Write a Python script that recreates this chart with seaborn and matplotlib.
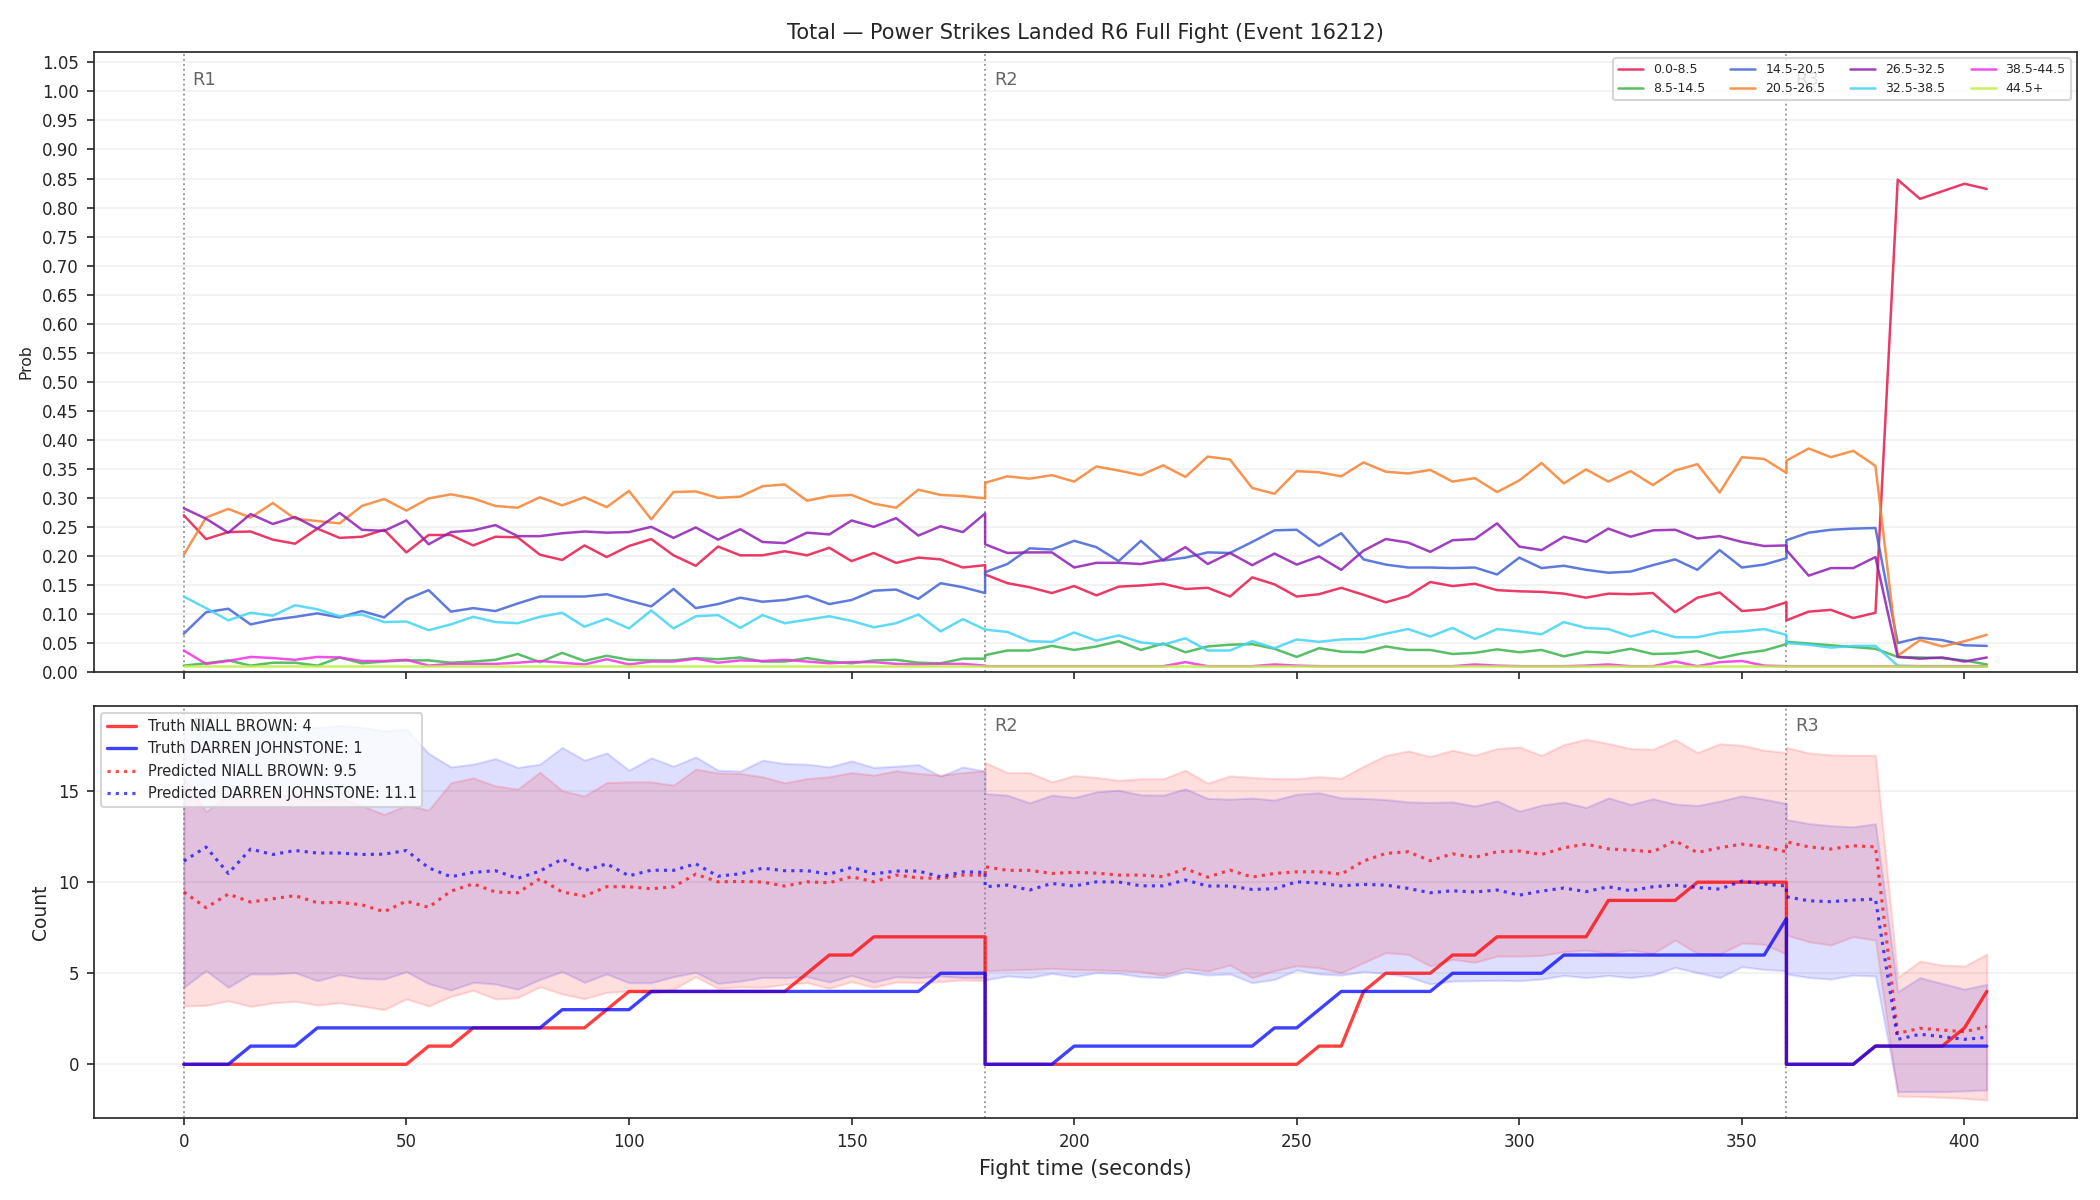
import matplotlib
matplotlib.use("Agg")
import matplotlib.pyplot as plt
import seaborn as sns
import pandas as pd

# ---------------- time axis (5 s sampling, round boundaries repeated) ----------------
R1_T = list(range(0, 181, 5))
R2_T = list(range(180, 361, 5))
R3_T = list(range(360, 406, 5))
time_s = R1_T + R2_T + R3_T
round_starts = [0, 180, 360]
round_names = ["R1", "R2", "R3"]

# ---------------- top panel: bin probabilities ----------------
bin_labels = ["0.0-8.5", "8.5-14.5", "14.5-20.5", "20.5-26.5",
              "26.5-32.5", "32.5-38.5", "38.5-44.5", "44.5+"]
bin_colors = ["#e6194b", "#3cb44b", "#4363d8", "#f58231",
              "#911eb4", "#42d4f4", "#f032e6", "#bfef45"]

p_0_8 = [0.270, 0.229, 0.241, 0.242, 0.228, 0.221, 0.247, 0.231, 0.233, 0.245,
         0.206, 0.236, 0.236, 0.218, 0.233, 0.232, 0.202, 0.193, 0.218, 0.198,
         0.217, 0.229, 0.201, 0.183, 0.216, 0.201, 0.201, 0.208, 0.201, 0.214,
         0.191, 0.205, 0.188, 0.197, 0.194, 0.180, 0.184,
         0.168, 0.153, 0.146, 0.136, 0.148, 0.132,
         0.147, 0.149, 0.152, 0.143, 0.145, 0.130, 0.163, 0.151, 0.130, 0.134,
         0.145, 0.133, 0.120, 0.131, 0.155, 0.148, 0.152, 0.141, 0.139, 0.138,
         0.135, 0.128, 0.135,
         0.134, 0.136, 0.103, 0.128, 0.137, 0.105, 0.108, 0.120,
         0.089, 0.104, 0.107, 0.093, 0.102, 0.848, 0.815, 0.828, 0.841, 0.832]

p_8_14 = [0.011, 0.015, 0.020, 0.011, 0.016, 0.016, 0.011, 0.025, 0.015, 0.018,
          0.020, 0.020, 0.016, 0.018, 0.021, 0.031, 0.017, 0.033, 0.019, 0.028,
          0.021, 0.020, 0.020, 0.024, 0.022, 0.025, 0.018, 0.018, 0.024, 0.018,
          0.015, 0.020, 0.021, 0.016, 0.015, 0.023, 0.023,
          0.029, 0.037, 0.037, 0.045, 0.038, 0.044,
          0.053, 0.038, 0.049, 0.034, 0.044, 0.047, 0.048, 0.040, 0.026, 0.041,
          0.035, 0.034, 0.044, 0.038, 0.038, 0.031, 0.033, 0.039, 0.034, 0.038,
          0.027, 0.035, 0.033,
          0.040, 0.031, 0.032, 0.036, 0.024, 0.032, 0.037, 0.048,
          0.052, 0.049, 0.046, 0.043, 0.040, 0.026, 0.025, 0.024, 0.020, 0.013]

p_14_20 = [0.066, 0.103, 0.109, 0.082, 0.090, 0.095, 0.101, 0.094, 0.105, 0.094,
           0.125, 0.141, 0.104, 0.110, 0.105, 0.118, 0.130, 0.130, 0.130, 0.134,
           0.123, 0.113, 0.143, 0.110, 0.117, 0.128, 0.121, 0.124, 0.131, 0.117,
           0.124, 0.140, 0.142, 0.126, 0.153, 0.146, 0.136,
           0.172, 0.186, 0.213, 0.211, 0.226, 0.215,
           0.191, 0.226, 0.192, 0.197, 0.206, 0.205, 0.224, 0.244, 0.245, 0.217,
           0.239, 0.194, 0.185, 0.180, 0.180, 0.179, 0.180, 0.168, 0.197, 0.179,
           0.183, 0.176, 0.171,
           0.173, 0.184, 0.194, 0.176, 0.210, 0.180, 0.185, 0.196,
           0.227, 0.240, 0.245, 0.247, 0.248, 0.050, 0.059, 0.055, 0.046, 0.045]

p_20_26 = [0.202, 0.266, 0.281, 0.266, 0.291, 0.264, 0.260, 0.256, 0.286, 0.298,
           0.278, 0.299, 0.306, 0.299, 0.286, 0.283, 0.301, 0.287, 0.301, 0.284,
           0.312, 0.263, 0.310, 0.311, 0.300, 0.302, 0.320, 0.323, 0.295, 0.303,
           0.305, 0.290, 0.283, 0.314, 0.305, 0.303, 0.299,
           0.326, 0.337, 0.333, 0.339, 0.328, 0.354,
           0.347, 0.339, 0.356, 0.336, 0.371, 0.366, 0.317, 0.307, 0.346, 0.344,
           0.337, 0.361, 0.345, 0.342, 0.348, 0.328, 0.334, 0.310, 0.330, 0.360,
           0.325, 0.349, 0.328,
           0.346, 0.322, 0.347, 0.358, 0.309, 0.370, 0.367, 0.343,
           0.364, 0.385, 0.370, 0.381, 0.355, 0.028, 0.055, 0.044, 0.053, 0.064]

p_26_32 = [0.282, 0.264, 0.240, 0.272, 0.255, 0.267, 0.247, 0.274, 0.245, 0.243,
           0.261, 0.220, 0.241, 0.244, 0.253, 0.234, 0.234, 0.239, 0.242, 0.240,
           0.241, 0.250, 0.231, 0.249, 0.228, 0.246, 0.224, 0.222, 0.240, 0.237,
           0.261, 0.250, 0.265, 0.235, 0.251, 0.241, 0.273,
           0.220, 0.205, 0.206, 0.206, 0.180, 0.188,
           0.188, 0.186, 0.193, 0.215, 0.186, 0.205, 0.184, 0.204, 0.185, 0.199,
           0.176, 0.209, 0.229, 0.223, 0.207, 0.227, 0.229, 0.256, 0.216, 0.210,
           0.233, 0.224, 0.247,
           0.233, 0.244, 0.245, 0.230, 0.234, 0.224, 0.217, 0.218,
           0.210, 0.166, 0.179, 0.179, 0.198, 0.026, 0.023, 0.025, 0.018, 0.025]

p_32_38 = [0.130, 0.110, 0.089, 0.102, 0.097, 0.115, 0.108, 0.096, 0.099, 0.086,
           0.087, 0.072, 0.082, 0.095, 0.086, 0.084, 0.095, 0.102, 0.078, 0.092,
           0.075, 0.106, 0.075, 0.096, 0.098, 0.076, 0.098, 0.084, 0.090, 0.096,
           0.088, 0.077, 0.084, 0.099, 0.070, 0.091, 0.073,
           0.073, 0.069, 0.053, 0.052, 0.068, 0.054,
           0.063, 0.051, 0.047, 0.058, 0.037, 0.037, 0.053, 0.041, 0.056, 0.052,
           0.056, 0.057, 0.066, 0.074, 0.061, 0.076, 0.057, 0.074, 0.070, 0.065,
           0.086, 0.076, 0.074,
           0.061, 0.071, 0.060, 0.060, 0.068, 0.070, 0.074, 0.064,
           0.050, 0.047, 0.042, 0.045, 0.045, 0.011, 0.010, 0.010, 0.010, 0.010]

p_38_44 = [0.037, 0.014, 0.019, 0.026, 0.024, 0.021, 0.026, 0.025, 0.019, 0.019,
           0.021, 0.011, 0.014, 0.014, 0.014, 0.016, 0.019, 0.016, 0.013, 0.022,
           0.013, 0.018, 0.018, 0.023, 0.016, 0.020, 0.019, 0.021, 0.018, 0.015,
           0.017, 0.017, 0.014, 0.013, 0.014, 0.014, 0.011,
           0.010, 0.010, 0.010, 0.010, 0.010, 0.010,
           0.010, 0.010, 0.010, 0.017, 0.010, 0.010, 0.010, 0.013, 0.011, 0.010,
           0.010, 0.010, 0.010, 0.010, 0.010, 0.010, 0.013, 0.011, 0.010, 0.010,
           0.010, 0.011, 0.013,
           0.010, 0.010, 0.018, 0.010, 0.017, 0.019, 0.011, 0.010,
           0.010, 0.010, 0.010, 0.010, 0.010, 0.010, 0.010, 0.010, 0.010, 0.010]

p_44_up = [0.010, 0.010, 0.010, 0.010, 0.010, 0.010, 0.010, 0.010, 0.010, 0.010,
           0.010, 0.010, 0.010, 0.010, 0.010, 0.010, 0.010, 0.010, 0.010, 0.010,
           0.010, 0.010, 0.010, 0.010, 0.010, 0.010, 0.010, 0.010, 0.010, 0.010,
           0.010, 0.010, 0.010, 0.010, 0.010, 0.010, 0.010,
           0.010, 0.010, 0.010, 0.010, 0.010, 0.010,
           0.010, 0.010, 0.010, 0.010, 0.010, 0.010, 0.010, 0.010, 0.010, 0.010,
           0.010, 0.010, 0.010, 0.010, 0.010, 0.010, 0.010, 0.010, 0.010, 0.010,
           0.010, 0.010, 0.010,
           0.010, 0.010, 0.010, 0.010, 0.010, 0.010, 0.010, 0.010,
           0.010, 0.010, 0.010, 0.010, 0.010, 0.010, 0.010, 0.010, 0.010, 0.010]

bin_series = [p_0_8, p_8_14, p_14_20, p_20_26, p_26_32, p_32_38, p_38_44, p_44_up]

# ---------------- bottom panel: counts ----------------
fighter_a = "NIALL BROWN"
fighter_b = "DARREN JOHNSTONE"

truth_a = [0, 0, 0, 0, 0, 0, 0, 0, 0, 0, 0, 1, 1, 2, 2, 2, 2, 2, 2, 3,
           4, 4, 4, 4, 4, 4, 4, 4, 5, 6, 6, 7, 7, 7, 7, 7, 7,
           0, 0, 0, 0, 0, 0, 0, 0, 0, 0, 0, 0, 0, 0, 0,
           1, 1, 4, 5, 5, 5, 6, 6, 7, 7, 7, 7, 7, 9, 9, 9, 9, 10, 10, 10, 10, 10,
           0, 0, 0, 0, 1, 1, 1, 1, 2, 4]

truth_b = [0, 0, 0, 1, 1, 1, 2, 2, 2, 2, 2, 2, 2, 2, 2, 2, 2, 3, 3, 3,
           3, 4, 4, 4, 4, 4, 4, 4, 4, 4, 4, 4, 4, 4, 5, 5, 5,
           0, 0, 0, 0, 1, 1, 1, 1, 1, 1, 1, 1, 1, 2, 2, 3, 4, 4, 4, 4, 4,
           5, 5, 5, 5, 5, 6, 6, 6, 6, 6, 6, 6, 6, 6, 6, 8,
           0, 0, 0, 0, 1, 1, 1, 1, 1, 1]

pred_a = [9.46, 8.60, 9.35, 8.91, 9.09, 9.26, 8.87, 8.89, 8.76, 8.38,
          8.96, 8.62, 9.51, 9.91, 9.46, 9.42, 10.19, 9.46, 9.24, 9.75,
          9.75, 9.64, 9.75, 10.44, 10.02, 10.04, 10.01, 9.79, 10.02, 9.97,
          10.30, 10.02, 10.39, 10.24, 10.21, 10.39, 10.39,
          10.85, 10.65, 10.65, 10.48, 10.54, 10.50,
          10.39, 10.39, 10.30, 10.74, 10.28, 10.66, 10.28, 10.48, 10.57, 10.57,
          10.44, 11.16, 11.58, 11.67, 11.18, 11.56, 11.36, 11.67, 11.71, 11.52,
          11.89, 12.09, 11.83,
          11.76, 11.67, 12.27, 11.63, 11.89, 12.09, 11.94, 11.67,
          12.22, 11.94, 11.82, 12.00, 11.94, 1.70, 1.98, 1.88, 1.79, 2.07]

pred_b = [11.16, 11.93, 10.48, 11.82, 11.52, 11.74, 11.60, 11.60, 11.52, 11.54,
          11.74, 10.79, 10.30, 10.54, 10.63, 10.21, 10.61, 11.27, 10.63, 11.01,
          10.35, 10.66, 10.65, 11.01, 10.33, 10.46, 10.77, 10.63, 10.63, 10.44,
          10.81, 10.46, 10.61, 10.61, 10.30, 10.57, 10.54,
          9.75, 9.84, 9.57, 9.93, 9.79, 10.02,
          10.01, 9.80, 9.80, 10.12, 9.79, 9.79, 9.60, 9.64, 10.02, 9.95,
          9.80, 9.88, 9.84, 9.66, 9.42, 9.53, 9.46, 9.57, 9.29, 9.51,
          9.68, 9.48, 9.75,
          9.53, 9.75, 9.84, 9.71, 9.62, 10.06, 9.90, 9.79,
          9.20, 8.98, 8.93, 9.02, 9.07, 1.37, 1.65, 1.52, 1.37, 1.48]

upper_a = [15.70, 13.87, 14.80, 14.60, 14.70, 14.80, 14.50, 14.60, 14.20, 13.72,
           14.23, 13.96, 15.46, 15.73, 15.29, 15.11, 16.04, 15.02, 14.74, 15.47,
           15.51, 15.51, 15.33, 16.21, 16.00, 15.97, 15.79, 15.46, 15.69, 15.79,
           16.02, 15.88, 16.12, 15.97, 15.88, 16.02, 16.12,
           16.57, 16.02, 16.02, 15.51, 15.86, 15.75,
           15.60, 15.68, 15.68, 16.15, 15.44, 15.84, 15.75, 15.69, 15.68, 15.80,
           15.71, 16.37, 16.96, 17.21, 16.90, 17.25, 16.97, 17.34, 17.43, 16.96,
           17.56, 17.85, 17.62,
           17.34, 17.30, 17.83, 17.12, 17.60, 17.52, 17.25, 17.12,
           17.40, 17.10, 16.99, 16.97, 16.97, 4.77, 5.67, 5.45, 5.40, 6.05]

lower_a = [3.20, 3.24, 3.49, 3.18, 3.37, 3.46, 3.26, 3.37, 3.20, 3.00,
           3.59, 3.20, 3.73, 4.06, 3.59, 3.66, 4.26, 3.86, 3.60, 3.95,
           4.02, 3.90, 4.12, 4.81, 4.17, 4.26, 4.23, 4.39, 4.48, 4.17,
           4.54, 4.23, 4.52, 4.48, 4.54, 4.63, 4.59,
           5.14, 5.18, 5.21, 5.27, 5.21, 5.18,
           5.14, 5.09, 4.88, 5.27, 5.12, 5.45, 4.76, 5.14, 5.41, 5.30,
           5.03, 5.58, 6.13, 6.04, 5.40, 5.76, 5.60, 5.94, 5.94, 5.98,
           6.18, 6.27, 6.09,
           6.27, 6.09, 6.82, 6.09, 6.04, 6.66, 6.59, 6.05,
           7.10, 6.73, 6.55, 7.01, 6.82, -1.74, -1.77, -1.81, -1.87, -1.96]

upper_b = [18.40, 18.90, 18.30, 18.60, 18.50, 18.60, 18.50, 18.60, 18.50, 18.30,
           18.40, 17.07, 16.33, 16.48, 16.79, 16.30, 16.48, 17.40, 16.70, 17.10,
           16.15, 16.83, 16.37, 16.88, 16.15, 16.10, 16.70, 16.52, 16.48, 16.33,
           16.66, 16.30, 16.37, 16.46, 15.82, 16.33, 16.10,
           14.87, 14.78, 14.36, 14.78, 14.65, 14.96,
           15.05, 14.80, 14.78, 15.13, 14.60, 14.56, 14.62, 14.51, 14.83, 14.91,
           14.63, 14.60, 14.54, 14.41, 14.38, 14.41, 14.18, 14.47, 13.90, 14.23,
           14.40, 14.10, 14.63,
           14.27, 14.58, 14.29, 14.21, 14.45, 14.74, 14.56, 14.32,
           13.44, 13.22, 13.10, 13.04, 13.21, 3.99, 4.76, 4.44, 4.13, 4.39]

lower_b = [4.23, 5.14, 4.23, 4.96, 4.96, 5.03, 4.59, 4.92, 4.72, 4.68,
           5.09, 4.43, 4.08, 4.50, 4.41, 4.12, 4.66, 5.09, 4.50, 4.96,
           4.48, 4.48, 4.81, 5.05, 4.44, 4.57, 4.77, 4.76, 4.81, 4.52,
           4.88, 4.52, 4.81, 4.76, 4.85, 4.76, 4.74,
           4.63, 4.85, 4.76, 4.99, 4.81, 5.03,
           4.99, 4.81, 4.76, 5.09, 4.90, 4.96, 4.48, 4.66, 5.18, 4.96,
           4.90, 5.09, 4.99, 4.81, 4.41, 4.57, 4.59, 4.61, 4.59, 4.68,
           4.88, 4.76, 4.88,
           4.76, 4.90, 5.32, 5.03, 4.76, 5.36, 5.21, 5.14,
           4.96, 4.77, 4.68, 4.90, 4.85, -1.50, -1.50, -1.50, -1.46, -1.41]

# ---------------- figure ----------------
sns.set_style("ticks")
plt.rcParams["font.family"] = ["DejaVu Sans"]
plt.rcParams["axes.edgecolor"] = "#222222"
plt.rcParams["axes.linewidth"] = 0.8

fig = plt.figure(figsize=(14, 8), dpi=150)
ax1 = fig.add_axes([0.0446, 0.44, 0.9444, 0.5167])
ax2 = fig.add_axes([0.0446, 0.0683, 0.9444, 0.3433], sharex=ax1)

# top panel
for lab, col, vals in zip(bin_labels, bin_colors, bin_series):
    sns.lineplot(x=time_s, y=vals, ax=ax1, color=col, lw=1.2, alpha=0.85,
                 estimator=None, sort=False, label=lab)

ax1.set_ylim(0, 1.068)
ax1.set_yticks([i * 0.05 for i in range(22)])
ax1.set_yticklabels([f"{i * 0.05:.2f}" for i in range(22)])
ax1.grid(axis="y", alpha=0.3)
ax1.set_ylabel("Prob", fontsize=7.5)
ax1.set_xlabel("")
ax1.tick_params(labelbottom=False, labelsize=8)
ax1.set_title("Total \u2014 Power Strikes Landed R6 Full Fight (Event 16212)", fontsize=10)
ax1.legend(loc="upper right", ncol=4, fontsize=6, framealpha=0.8)

# bottom panel
ax2.fill_between(time_s, lower_b, upper_b, color="blue", alpha=0.13)
ax2.fill_between(time_s, lower_a, upper_a, color="red", alpha=0.13)
sns.lineplot(x=time_s, y=truth_a, ax=ax2, color="red", lw=1.6, alpha=0.75,
             estimator=None, sort=False, label=f"Truth {fighter_a}: {truth_a[-1]}")
sns.lineplot(x=time_s, y=truth_b, ax=ax2, color="blue", lw=1.6, alpha=0.75,
             estimator=None, sort=False, label=f"Truth {fighter_b}: {truth_b[-1]}")
sns.lineplot(x=time_s, y=pred_a, ax=ax2, color="red", lw=1.5, alpha=0.7, ls=":",
             estimator=None, sort=False, label=f"Predicted {fighter_a}: 9.5")
sns.lineplot(x=time_s, y=pred_b, ax=ax2, color="blue", lw=1.5, alpha=0.7, ls=":",
             estimator=None, sort=False, label=f"Predicted {fighter_b}: 11.1")

ax2.set_ylim(-2.95, 19.67)
ax2.set_yticks([0, 5, 10, 15])
ax2.grid(axis="y", alpha=0.3)
ax2.set_ylabel("Count", fontsize=9)
ax2.set_xlabel("Fight time (seconds)", fontsize=10)
ax2.tick_params(labelsize=8)
ax2.set_xticks(list(range(0, 401, 50)))
ax2.set_xlim(-20.25, 425.25)
ax2.legend(loc="upper left", fontsize=7, framealpha=0.8)

for ax in (ax1, ax2):
    ytop = ax.get_ylim()[1] * 0.97
    for x0, name in zip(round_starts, round_names):
        ax.axvline(x0, color="gray", ls=":", lw=0.9, alpha=0.8, zorder=1)
        ax.text(x0 + 2, ytop, name, color="#666666", fontsize=8.5, va="top", ha="left",
                zorder=1)
    for side in ("top", "right", "left", "bottom"):
        ax.spines[side].set_visible(True)

fig.savefig("out.png", dpi=150)
